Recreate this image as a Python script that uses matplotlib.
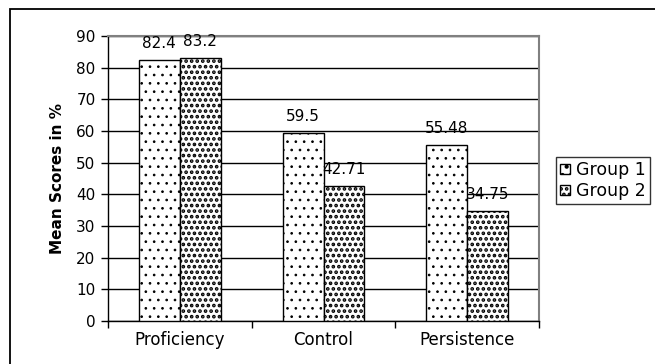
import matplotlib
matplotlib.use("Agg")
import matplotlib.pyplot as plt
import numpy as np
from matplotlib.patches import Rectangle

plt.rcParams['font.family'] = ['DejaVu Sans']

categories = ["Proficiency", "Control", "Persistence"]
group1 = [82.4, 59.5, 55.48]
group2 = [83.2, 42.71, 34.75]
labels1 = ["82.4", "59.5", "55.48"]
labels2 = ["83.2", "42.71", "34.75"]
series_names = ["Group 1", "Group 2"]
yticks = [0, 10, 20, 30, 40, 50, 60, 70, 80, 90]

FS = 11

fig = plt.figure(figsize=(6.55, 3.64), dpi=100)
# outer chart border
fig.add_artist(Rectangle((10/655, -0.05), 1.0, 1 - 9/364 + 0.05, transform=fig.transFigure,
                         fill=False, edgecolor='black', linewidth=1.3))

ax = fig.add_axes([108/655, 43/364, 431/655, 285/364])
x = np.arange(len(categories))
w = 0.285

plt.rcParams['hatch.linewidth'] = 0.7
plt.rcParams['hatch.color'] = '#333333'
b1 = ax.bar(x - w/2, group1, w, facecolor='white', edgecolor='black', hatch='..',
            linewidth=1.0, zorder=3, label=series_names[0])
plt.rcParams['hatch.linewidth'] = 1.8
plt.rcParams['hatch.color'] = 'black'
b2 = ax.bar(x + w/2, group2, w, facecolor='white', edgecolor='black', hatch='...',
            linewidth=1.0, zorder=3, label=series_names[1])

for i in range(len(categories)):
    ax.text(x[i] - w/2, group1[i] + 2.8, labels1[i], ha='center', va='bottom', fontsize=FS)
    ax.text(x[i] + w/2, group2[i] + 2.8, labels2[i], ha='center', va='bottom', fontsize=FS)

ax.set_xlim(-0.5, 2.5)
ax.set_ylim(0, 90)
ax.set_yticks(yticks)
ax.set_yticklabels([str(t) for t in yticks], fontsize=FS)
ax.set_xticks(x)
ax.set_xticklabels(categories, fontsize=12)
ax.set_xticks([-0.5, 0.5, 1.5, 2.5], minor=True)
ax.tick_params(axis='x', which='major', length=0, pad=7)
ax.tick_params(axis='x', which='minor', length=5, direction='out', width=1)
ax.tick_params(axis='y', length=5, direction='out', width=1, pad=4)
ax.yaxis.grid(True, color='black', linewidth=1.0, zorder=0)
ax.set_axisbelow(True)
for s in ['top', 'right']:
    ax.spines[s].set_color('#808080')
    ax.spines[s].set_linewidth(1.5)
for s in ['left', 'bottom']:
    ax.spines[s].set_color('black')
    ax.spines[s].set_linewidth(1.0)
ax.set_ylabel("Mean Scores in %", fontsize=FS, fontweight='bold', labelpad=8)

leg = fig.legend(handles=[b1, b2], labels=series_names, loc='upper left',
                 bbox_to_anchor=(556/655, 1 - 157/364), fontsize=12.5, frameon=True,
                 fancybox=False, edgecolor='black', handlelength=0.55, handleheight=0.55,
                 handletextpad=0.35, borderpad=0.25, labelspacing=0.15, borderaxespad=0)
leg.get_frame().set_linewidth(1.0)

fig.savefig("out.png", dpi=100)
